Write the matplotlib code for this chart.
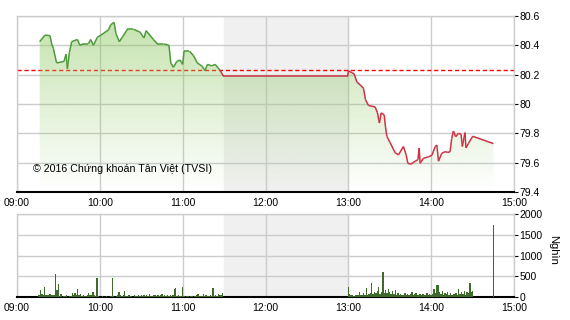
import numpy as np
import matplotlib
matplotlib.use('Agg')
import matplotlib.pyplot as plt
from matplotlib.collections import LineCollection
from matplotlib.patches import Polygon

plt.rcParams['font.family'] = ['Liberation Sans', 'DejaVu Sans']

# minutes after 09:00
price_t = [16.4, 20.3, 23.9, 25.1, 26.3, 28.7, 34, 35.5, 36.5, 37.9, 39.6, 43.7, 45.6, 48, 51.7, 53.4, 55.3, 58.2,
           60.9, 66.2, 67.9, 70.3, 71.7, 74.1, 76.6, 80, 84.3, 89.1, 92, 93.5, 98.8, 101.7, 106, 110.1, 111.4,
           113.3, 115.7, 118.1, 120, 121, 124.9, 127.8, 130.6, 133.8, 136.2, 137.9, 141.1, 143.5, 147.1, 149.5,
           239.5, 240, 244.2, 246.2, 248.6, 251, 252.4, 254.6, 259.4, 261.1, 262.5, 263.8, 266, 266.9, 267.9,
           270.3, 273.9, 276.3, 279.9, 281.9, 283.1, 285.3, 288.4, 290.4, 291.3, 292, 294.4, 298, 300.5, 302.9,
           304.1, 305.3, 307.7, 310.1, 312.1, 313.7, 314.9, 316.1, 317.8, 319.7, 321.6, 322.6, 324.5, 325.2,
           326.9, 330.1, 345.1]
price_v = [80.425, 80.47, 80.466, 80.41, 80.38, 80.28, 80.29, 80.34, 80.24, 80.35, 80.425, 80.44, 80.40, 80.41,
           80.41, 80.44, 80.40, 80.455, 80.47, 80.505, 80.54, 80.557, 80.48, 80.425, 80.46, 80.51, 80.51, 80.49,
           80.45, 80.50, 80.44, 80.41, 80.41, 80.40, 80.28, 80.25, 80.29, 80.30, 80.27, 80.36, 80.36, 80.33,
           80.28, 80.26, 80.227, 80.27, 80.26, 80.27, 80.23, 80.19,
           80.19, 80.227, 80.205, 80.15, 80.13, 80.107, 80.03, 79.99, 79.98, 79.94, 79.87, 79.94, 79.925, 79.845,
           79.78, 79.736, 79.668, 79.653, 79.71, 79.653, 79.596, 79.59, 79.61, 79.62, 79.70, 79.596, 79.63, 79.64,
           79.65, 79.71, 79.72, 79.61, 79.664, 79.675, 79.67, 79.675, 79.766, 79.816, 79.777, 79.80, 79.795,
           79.71, 79.805, 79.70, 79.73, 79.78, 79.73]
ref_value = 80.23

# volume per minute (thousand shares)
vol_am_start = 16
vol_am = [40, 170, 70, 40, 240, 50, 60, 40, 70, 50, 60, 60, 550, 180, 310, 20, 80, 0, 30, 20, 40, 10, 30, 20,
          90, 60, 90, 50, 200, 60, 70, 30, 40, 20, 30, 40, 90, 60, 40, 130, 40, 30, 460, 20, 0, 10, 20, 10, 10,
          20, 0, 10, 30, 460, 20, 10, 30, 40, 130, 50, 30, 40, 150, 30, 20, 40, 20, 30, 10, 40, 20, 30, 50, 20,
          40, 30, 60, 20, 40, 30, 80, 30, 20, 50, 40, 30, 60, 20, 40, 70, 30, 40, 20, 60, 30, 50, 20, 40, 200,
          216, 30, 40, 20, 30, 250, 20, 10, 30, 20, 10, 20, 30, 10, 20, 40, 70, 30, 20, 30, 70, 20, 40, 30, 20,
          60, 30, 216, 20, 40, 30, 80, 60, 50, 100]
vol_pm_start = 240
vol_pm = [250, 80, 40, 60, 30, 40, 50, 60, 130, 40, 60, 90, 50, 220, 60, 80, 100, 330, 70, 120, 90, 150, 230,
          80, 120, 610, 100, 170, 90, 190, 110, 80, 140, 70, 170, 60, 90, 50, 80, 60, 40, 90, 50, 70, 60, 80,
          130, 50, 70, 90, 40, 60, 80, 50, 70, 40, 60, 90, 50, 70, 60, 80, 200, 90, 290, 290, 120, 80, 150, 60,
          100, 70, 130, 50, 90, 60, 80, 70, 100, 60, 190, 80, 120, 70, 140, 60, 110, 90, 340, 130, 150]
close_t = 345
close_vol = 1730

tick_pos = [0, 60, 120, 180, 240, 300, 360]
tick_lab = ['09:00', '10:00', '11:00', '12:00', '13:00', '14:00', '15:00']
price_ticks = [79.4, 79.6, 79.8, 80, 80.2, 80.4, 80.6]
price_labels = ['79.4', '79.6', '79.8', '80', '80.2', '80.4', '80.6']
vol_ticks = [0, 500, 1000, 1500, 2000]

grid_c = '#cccccc'
fs = 7.5

fig = plt.figure(figsize=(5.7, 3.2), dpi=100)
ax = fig.add_axes([17 / 570, 1 - 192 / 320, 497 / 570, 176 / 320])
axv = fig.add_axes([17 / 570, 1 - 297 / 320, 497 / 570, 83 / 320])


def style(a):
    a.set_xlim(0, 360)
    a.set_xticks(tick_pos)
    a.set_xticklabels(tick_lab, fontsize=fs)
    a.yaxis.tick_right()
    a.tick_params(axis='y', direction='out', length=3, pad=1, labelsize=fs, width=0.8)
    a.tick_params(axis='x', length=0, pad=4)
    a.grid(True, color=grid_c, lw=1)
    a.set_axisbelow(True)
    for s in ['left', 'top', 'right']:
        a.spines[s].set_color(grid_c)
        a.spines[s].set_linewidth(1)
    a.spines['bottom'].set_color('black')
    a.spines['bottom'].set_linewidth(1.5)
    a.axvspan(150, 240, color='#f0f0f0', zorder=0)


style(ax)
style(axv)

# reference line (under the fill)
ax.axhline(ref_value, color='#ff0000', lw=1, dashes=(3, 2), zorder=2)

# gradient fill clipped to area under the line
pt = np.array(price_t)
pv = np.array(price_v)
verts = [(pt[0], 79.4)] + list(zip(pt, pv)) + [(pt[-1], 79.4)]
poly = Polygon(verts, closed=True, facecolor='none', edgecolor='none')
ax.add_patch(poly)
grad = np.zeros((256, 1, 4))
grad[:, 0, 0] = 140 / 255
grad[:, 0, 1] = 200 / 255
grad[:, 0, 2] = 95 / 255
grad[:, 0, 3] = np.linspace(0.52, 0.0, 256)
im = ax.imshow(grad, extent=[0, 360, 79.4, 80.6], origin='upper', aspect='auto', zorder=3,
               interpolation='bilinear')
im.set_clip_path(poly)
ax.set_xlim(0, 360)
ax.set_ylim(79.4, 80.6)
ax.set_yticks(price_ticks)
ax.set_yticklabels(price_labels)

# two-colour price line
segs = [[(pt[i], pv[i]), (pt[i + 1], pv[i + 1])] for i in range(len(pt) - 1)]
cols = ['#4e9a3c' if (pv[i] + pv[i + 1]) / 2 >= ref_value else '#cc3344' for i in range(len(pt) - 1)]
lc = LineCollection(segs, colors=cols, linewidths=1.1, zorder=4)
ax.add_collection(lc)

ax.text(11.6, 79.557, '\u00a9 2016 Ch\u1ee9ng kho\u00e1n T\u00e2n Vi\u1ec7t (TVSI)', fontsize=7.7, va='center',
        ha='left', zorder=5)

# volume
bar_c = '#3e6b2c'
am_x = np.arange(vol_am_start, vol_am_start + len(vol_am))
pm_x = np.arange(vol_pm_start, vol_pm_start + len(vol_pm))
axv.bar(am_x, vol_am, width=1.0, color=bar_c, zorder=3)
axv.bar(pm_x, vol_pm, width=1.0, color=bar_c, zorder=3)
axv.bar([close_t], [close_vol], width=1.0, color=bar_c, zorder=3)
axv.set_ylim(0, 2000)
axv.set_yticks(vol_ticks)
axv.set_xlim(0, 360)
fig.text(553 / 570, 1 - 250 / 320, 'Ngh\u00ecn', rotation=270, fontsize=8, ha='center', va='center')

fig.savefig('out.png', dpi=100)
